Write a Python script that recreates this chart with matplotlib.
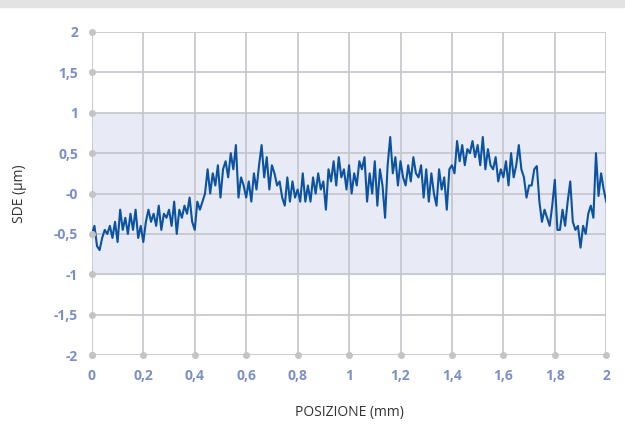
import numpy as np
import matplotlib
matplotlib.use("Agg")
import matplotlib.pyplot as plt
from matplotlib.patches import Rectangle

# SDE profile, one value every 0.01 mm from 0 to 2 mm
sde = [
    -0.50, -0.40, -0.65, -0.70, -0.55, -0.45, -0.50, -0.40, -0.55, -0.35,
    -0.60, -0.20, -0.45, -0.30, -0.50, -0.25, -0.45, -0.20, -0.55, -0.40,
    -0.60, -0.35, -0.20, -0.35, -0.25, -0.40, -0.15, -0.45, -0.25, -0.30,
    -0.20, -0.40, -0.10, -0.50, -0.20, -0.30, -0.15, -0.25, -0.05, -0.35,
    -0.45, -0.10, -0.20, -0.10, 0.00, 0.30, 0.00, 0.25, 0.10, 0.35,
    -0.05, 0.30, 0.40, 0.20, 0.50, 0.30, 0.60, -0.05, 0.20, 0.10,
    -0.05, 0.15, -0.10, 0.25, 0.05, 0.35, 0.60, 0.20, 0.45, 0.05,
    0.35, 0.25, 0.10, 0.15, -0.05, -0.15, 0.20, -0.10, 0.15, -0.05,
    0.05, -0.10, 0.25, -0.10, 0.10, -0.10, 0.20, 0.00, 0.25, 0.05,
    0.15, -0.20, 0.30, 0.15, 0.40, 0.10, 0.45, 0.20, 0.30, 0.05,
    0.35, 0.00, 0.25, 0.10, 0.40, 0.30, 0.45, -0.10, 0.25, 0.00,
    0.40, -0.15, 0.30, 0.10, -0.30, 0.35, 0.70, 0.25, 0.45, 0.10,
    0.40, 0.20, 0.10, 0.35, 0.15, 0.45, 0.25, 0.20, 0.35, -0.05,
    0.30, -0.10, 0.25, 0.00, -0.15, 0.30, 0.05, 0.20, -0.20, 0.30,
    0.35, 0.25, 0.65, 0.40, 0.60, 0.35, 0.55, 0.50, 0.65, 0.45,
    0.60, 0.35, 0.70, 0.30, 0.55, 0.35, 0.30, 0.45, 0.15, 0.30,
    0.20, 0.40, 0.10, 0.50, 0.20, 0.35, 0.60, 0.30, 0.20, -0.05,
    0.10, 0.10, 0.30, 0.34, -0.10, -0.35, -0.20, -0.30, -0.40, -0.15,
    0.17, -0.45, -0.45, -0.20, -0.40, -0.10, 0.15, -0.35, -0.45, -0.40,
    -0.67, -0.40, -0.50, -0.25, -0.15, -0.30, 0.50, -0.03, 0.25, 0.05,
    -0.10,
]
pos = np.round(np.arange(len(sde)) * 0.01, 2)

yticks = [-2, -1.5, -1, -0.5, 0, 0.5, 1, 1.5, 2]
ylabels = ["-2", "-1,5", "-1", "-0,5", "-0", "0,5", "1", "1,5", "2"]
xticks = [0, 0.2, 0.4, 0.6, 0.8, 1, 1.2, 1.4, 1.6, 1.8, 2]
xlabels = ["0", "0,2", "0,4", "0,6", "0,8", "1", "1,2", "1,4", "1,6", "1,8", "2"]

plt.rcParams["font.family"] = ["Open Sans", "DejaVu Sans"]

fig = plt.figure(figsize=(6.25, 4.32), dpi=100)
fig.patches.append(Rectangle((0, 1 - 7 / 432), 1, 7 / 432, transform=fig.transFigure,
                             color="#e3e3e3", zorder=0))
ax = fig.add_axes([0.147, 0.178, 0.823, 0.748])

grid_c = "#c4c4cc"
ax.axhspan(-1, 1, color="#e8eaf6", zorder=0)
for y in yticks:
    ax.axhline(y, color=grid_c, lw=1.2, zorder=1)
for x in xticks:
    ax.axvline(x, color=grid_c, lw=1.2, zorder=1)

ax.plot(pos, sde, color="#0b53a1", lw=1.5, zorder=3)

# dot markers on the axis ticks
ax.plot([0] * len(yticks), yticks, "o", color="#c4c4c4", ms=4, clip_on=False, zorder=4)
ax.plot(xticks, [-2] * len(xticks), "o", color="#c4c4c4", ms=4, clip_on=False, zorder=4)

ax.set_xlim(0, 2)
ax.set_ylim(-2, 2)
ax.set_xticks(xticks)
ax.set_xticklabels(xlabels)
ax.set_yticks(yticks)
ax.set_yticklabels(ylabels)
ax.tick_params(length=0, labelsize=10, labelcolor="#7b90c9", pad=10)
for lab in ax.get_xticklabels() + ax.get_yticklabels():
    lab.set_fontweight("bold")
for s in ax.spines.values():
    s.set_visible(False)

ax.set_xlabel("POSIZIONE (mm)", fontsize=10, color="#333333", labelpad=16)
ax.set_ylabel("SDE (µm)", fontsize=10, color="#333333", labelpad=19)

fig.savefig("out.png", dpi=100)
plt.close(fig)
